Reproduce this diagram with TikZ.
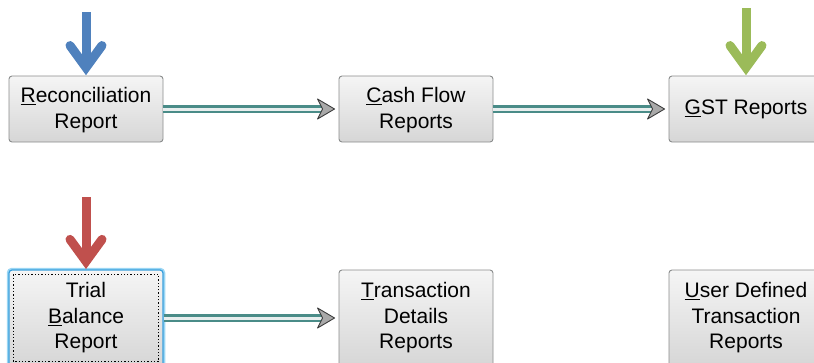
\documentclass[tikz,border=0pt]{standalone}
\usepackage{fontspec}
\setmainfont{Liberation Sans}
\usetikzlibrary{calc}
\definecolor{boxborder}{HTML}{8A8C8C}
\definecolor{btntop}{HTML}{F5F5F5}
\definecolor{btnbot}{HTML}{D6D6D6}
\definecolor{arrowblue}{HTML}{4F81BD}
\definecolor{arrowred}{HTML}{C0504D}
\definecolor{arrowgreen}{HTML}{9BBB59}
\definecolor{connteal}{HTML}{4A8C88}
\definecolor{conninner}{HTML}{E8EEEE}
\definecolor{tipfill}{HTML}{A9A9A9}
\definecolor{tipdraw}{HTML}{3C3C3C}
\definecolor{glowout}{HTML}{9AD6F4}
\definecolor{glowin}{HTML}{3A9FDC}
\tikzset{
  btn/.style={draw=boxborder, line width=0.9pt, rounded corners=3pt,
    top color=btntop, bottom color=btnbot, minimum width=154pt,
    inner sep=0pt, align=center, text=black,
    font=\fontsize{21}{25.5}\selectfont},
  focusbtn/.style={btn, draw=glowin, line width=1.2pt,
    preaction={draw=glowout, line width=4.5pt}},
  fatshaft/.style={line width=9pt, line cap=butt},
  fathead/.style={line width=9pt, line cap=round, line join=miter},
  conn/.style={draw=connteal, line width=2.2pt, double=conninner, double distance=3pt},
  conntip/.style={fill=tipfill, draw=tipdraw, line width=0.9pt, line join=round}
}
\begin{document}
\begin{tikzpicture}[x=1pt,y=-1pt]
\useasboundingbox (0,0) rectangle (814,362);
\clip (0,0) rectangle (814,362);

% row 1
\node[btn, minimum height=66pt] (rec) at (86,109) {\rule{0pt}{17pt}\underline{R}econciliation\\Report};
\node[btn, minimum height=66pt] (cf) at (416,109) {\rule{0pt}{17pt}\underline{C}ash Flow\\Reports};
\node[btn, minimum height=66pt] (gst) at (746,109) {\underline{G}ST Reports};

% row 2
\node[focusbtn, minimum height=96pt] (tb) at (86,318) {Trial\\\underline{B}alance\\Report};
\draw[black, dotted, line width=1.3pt] ($(tb.north west)+(5,5)$) rectangle ($(tb.south east)+(-5,-5)$);
\node[btn, minimum height=96pt] (td) at (416,318) {\underline{T}ransaction\\Details\\Reports};
\node[btn, minimum height=96pt] (ud) at (746,318) {\underline{U}ser Defined\\Transaction\\Reports};

% connectors
\draw[conn] (rec.east) -- ($(cf.west)+(-16,0)$);
\filldraw[conntip] ($(cf.west)+(-4,0)$) -- ++(-17,-10) -- ++(5,10) -- ++(-5,10) -- cycle;
\draw[conn] (cf.east) -- ($(gst.west)+(-16,0)$);
\filldraw[conntip] ($(gst.west)+(-4,0)$) -- ++(-17,-10) -- ++(5,10) -- ++(-5,10) -- cycle;
\draw[conn] (tb.east) -- ($(td.west)+(-16,0)$);
\filldraw[conntip] ($(td.west)+(-4,0)$) -- ++(-17,-10) -- ++(5,10) -- ++(-5,10) -- cycle;

% pointer arrows
\coordinate (bluetop) at (86,12);
\draw[fatshaft, arrowblue] (bluetop) -- ($(rec.north)+(0,-8)$);
\draw[fathead, arrowblue] ($(rec.north)+(-16,-30)$) -- ($(rec.north)+(0,-8)$) -- ($(rec.north)+(16,-30)$);

\coordinate (redtop) at (86,197);
\draw[fatshaft, arrowred] (redtop) -- ($(tb.north)+(0,-8)$);
\draw[fathead, arrowred] ($(tb.north)+(-16,-30)$) -- ($(tb.north)+(0,-8)$) -- ($(tb.north)+(16,-30)$);

\coordinate (greentop) at (746,8);
\draw[fatshaft, arrowgreen] (greentop) -- ($(gst.north)+(0,-8)$);
\draw[fathead, arrowgreen] ($(gst.north)+(-16,-30)$) -- ($(gst.north)+(0,-8)$) -- ($(gst.north)+(16,-30)$);
\end{tikzpicture}
\end{document}
